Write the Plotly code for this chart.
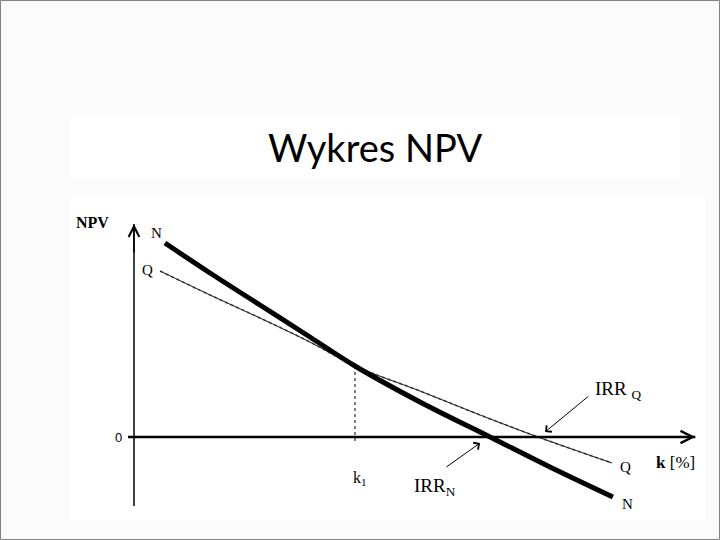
import plotly.graph_objects as go

# ---- data (k in %, NPV in arbitrary units) ----
k_N = [1.40, 3.44, 5.70, 7.96, 10.0, 12.94, 16.11, 18.82, 21.67]
npv_N = [19.4, 16.4, 13.2, 10.0, 7.1, 3.5, 0.0, -3.0, -6.0]

k_Q = [1.18, 3.44, 5.70, 7.96, 10.0, 12.94, 15.66, 18.28, 21.63]
npv_Q = [16.6, 14.2, 11.9, 9.5, 7.1, 4.6, 2.2, 0.0, -2.6]

k1 = 10.0
npv_k1 = 7.1
irr_N = 16.11
irr_Q = 18.28

x_axis_end = 25.4
y_axis_top = 21.3
y_axis_bottom = -6.9

fig = go.Figure()

# Q line (thin, speckled)
fig.add_trace(go.Scatter(x=k_Q, y=npv_Q, mode="lines", line=dict(color="#9a9a9a", width=2, dash="dot", shape="spline"),
                         hoverinfo="skip", showlegend=False))
fig.add_trace(go.Scatter(x=k_Q, y=npv_Q, mode="lines", line=dict(color="#111111", width=1, shape="spline"),
                         hoverinfo="skip", showlegend=False))
# N curve (thick)
fig.add_trace(go.Scatter(x=k_N, y=npv_N, mode="lines", line=dict(color="#000000", width=5, shape="spline"),
                         hoverinfo="skip", showlegend=False))

shapes = [
    # slide background boxes
    dict(type="rect", xref="paper", yref="paper", x0=0.0972, x1=0.944, y0=0.670, y1=0.787,
         fillcolor="white", line=dict(width=0), layer="below"),
    dict(type="rect", xref="paper", yref="paper", x0=0.0972, x1=0.979, y0=0.037, y1=0.639,
         fillcolor="white", line=dict(width=0), layer="below"),
    dict(type="rect", xref="paper", yref="paper", x0=0.0007, x1=0.9993, y0=0.001, y1=0.999,
         fillcolor="rgba(0,0,0,0)", line=dict(width=1, color="#808080")),
    # axes
    dict(type="line", xref="x", yref="y", x0=0, x1=0, y0=y_axis_bottom, y1=y_axis_top,
         line=dict(color="black", width=1.5)),
    dict(type="line", xref="x", yref="y", x0=-0.27, x1=x_axis_end, y0=0, y1=0,
         line=dict(color="black", width=2.5)),
    # k1 dotted drop line
    dict(type="line", xref="x", yref="y", x0=k1, x1=k1, y0=npv_k1, y1=-0.6,
         line=dict(color="black", width=1, dash="dot")),
]

serif = "Liberation Serif"
annotations = [
    # axis arrowheads
    dict(x=0, y=y_axis_top, ax=0, ay=y_axis_top - 3, xref="x", yref="y", axref="x", ayref="y",
         text="", showarrow=True, arrowhead=5, arrowsize=1.4, arrowwidth=1.5, arrowcolor="black"),
    dict(x=x_axis_end, y=0, ax=x_axis_end - 2, ay=0, xref="x", yref="y", axref="x", ayref="y",
         text="", showarrow=True, arrowhead=5, arrowsize=1.2, arrowwidth=2, arrowcolor="black"),
    # IRR callout arrows
    dict(x=irr_N - 0.45, y=-0.6, ax=14.07, ay=-3.1, xref="x", yref="y", axref="x", ayref="y",
         text="", showarrow=True, arrowhead=4, arrowsize=1.6, arrowwidth=1, arrowcolor="black"),
    dict(x=irr_Q + 0.32, y=0.5, ax=20.63, ay=4.2, xref="x", yref="y", axref="x", ayref="y",
         text="", showarrow=True, arrowhead=4, arrowsize=1.6, arrowwidth=1, arrowcolor="black"),
    # labels
    dict(x=-1.86, y=21.5, xref="x", yref="y", text="<b>NPV</b>", showarrow=False,
         font=dict(family=serif, size=16, color="black")),
    dict(x=-0.68, y=0, xref="x", yref="y", text="0", showarrow=False,
         font=dict(family="Liberation Sans", size=13, color="black")),
    dict(x=k_N[0], y=npv_N[0], xref="x", yref="y", xshift=-8, yshift=10, text="N", showarrow=False,
         font=dict(family=serif, size=15, color="black")),
    dict(x=k_Q[0], y=npv_Q[0], xref="x", yref="y", xshift=-13, yshift=1, text="Q", showarrow=False,
         font=dict(family=serif, size=15, color="black")),
    dict(x=k_Q[-1], y=npv_Q[-1], xref="x", yref="y", xshift=13, yshift=-4, text="Q", showarrow=False,
         font=dict(family=serif, size=15, color="black")),
    dict(x=k_N[-1], y=npv_N[-1], xref="x", yref="y", xshift=15, yshift=-7, text="N", showarrow=False,
         font=dict(family=serif, size=15, color="black")),
    dict(x=k1, y=0, xref="x", yref="y", xshift=5, yshift=-41, text="k<sub>1</sub>", showarrow=False,
         font=dict(family=serif, size=16, color="black")),
    dict(x=13.6, y=-5.0, xref="x", yref="y", text="IRR<sub>N</sub>", showarrow=False,
         font=dict(family=serif, size=19, color="black")),
    dict(x=20.77, y=4.7, xref="x", yref="y", xanchor="left", text="IRR <sub>Q</sub>", showarrow=False,
         font=dict(family=serif, size=19, color="black")),
    dict(x=24.5, y=-2.5, xref="x", yref="y", text="<b>k</b> [%]", showarrow=False,
         font=dict(family=serif, size=17, color="black")),
    # slide title
    dict(x=0.521, y=0.728, xref="paper", yref="paper", xanchor="center", yanchor="middle",
         text="Wykres NPV", showarrow=False,
         font=dict(family="Lato", size=38, color="black")),
]

fig.update_layout(
    width=720, height=540,
    margin=dict(l=0, r=0, t=0, b=0),
    paper_bgcolor="#fbfbfb", plot_bgcolor="rgba(0,0,0,0)",
    xaxis=dict(range=[-6.063, 26.516], visible=False, fixedrange=True),
    yaxis=dict(range=[-10.3, 43.7], visible=False, fixedrange=True),
    shapes=shapes, annotations=annotations,
    showlegend=False,
)

fig.write_html("out.html", config={"displayModeBar": False},
               post_script="document.body.style.margin='0';document.body.style.padding='0';")
